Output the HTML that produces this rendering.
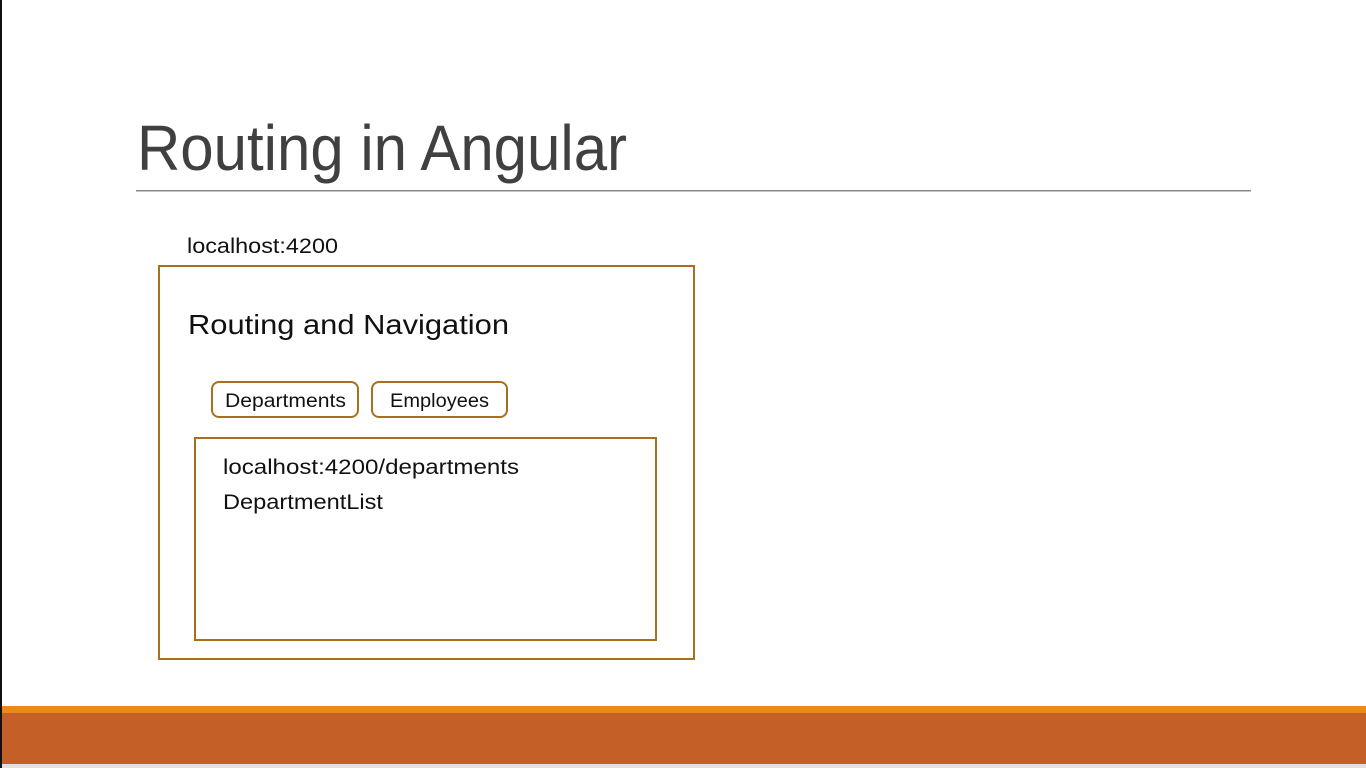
<!DOCTYPE html>
<html><head><meta charset="utf-8"><style>
html,body{margin:0;padding:0;background:#fff;}
body{width:1366px;height:768px;overflow:hidden;position:relative;}
</style></head><body>
<svg width="1366" height="768" xmlns="http://www.w3.org/2000/svg" style="position:absolute;left:0;top:0">
<rect x="0" y="0" width="1366" height="768" fill="#fff"/>
<rect x="0" y="0" width="2" height="768" fill="#111"/>
<text x="137" y="170" font-family="Liberation Sans, sans-serif" font-size="64" fill="#404040" textLength="490" lengthAdjust="spacingAndGlyphs">Routing in Angular</text>
<rect x="136" y="190" width="1115" height="1.5" fill="#8a8a8a"/>
<text x="187" y="253" font-family="Liberation Sans, sans-serif" font-size="21" fill="#111" textLength="151" lengthAdjust="spacingAndGlyphs">localhost:4200</text>
<rect x="159" y="266" width="535" height="393" fill="none" stroke="#a8701e" stroke-width="2"/>
<text x="188" y="334" font-family="Liberation Sans, sans-serif" font-size="28" fill="#111" textLength="321" lengthAdjust="spacingAndGlyphs">Routing and Navigation</text>
<rect x="212" y="382" width="146" height="35" rx="7" fill="#fff" stroke="#a8701e" stroke-width="2"/>
<rect x="372" y="382" width="135" height="35" rx="7" fill="#fff" stroke="#a8701e" stroke-width="2"/>
<text x="225" y="407" font-family="Liberation Sans, sans-serif" font-size="19" fill="#111" textLength="121" lengthAdjust="spacingAndGlyphs">Departments</text>
<text x="390" y="407" font-family="Liberation Sans, sans-serif" font-size="19" fill="#111" textLength="99" lengthAdjust="spacingAndGlyphs">Employees</text>
<rect x="195" y="438" width="461" height="202" fill="none" stroke="#a8701e" stroke-width="2"/>
<text x="223" y="474" font-family="Liberation Sans, sans-serif" font-size="21" fill="#111" textLength="296" lengthAdjust="spacingAndGlyphs">localhost:4200/departments</text>
<text x="223" y="509" font-family="Liberation Sans, sans-serif" font-size="21" fill="#111" textLength="160" lengthAdjust="spacingAndGlyphs">DepartmentList</text>
<rect x="2" y="706" width="1364" height="8" fill="#e8891a"/>
<rect x="2" y="713" width="1364" height="51" fill="#c35f27"/>
<rect x="0" y="764" width="1366" height="4" fill="#e6e0dc"/>
<rect x="0" y="706" width="2" height="62" fill="#111"/>
</svg>
</body></html>
